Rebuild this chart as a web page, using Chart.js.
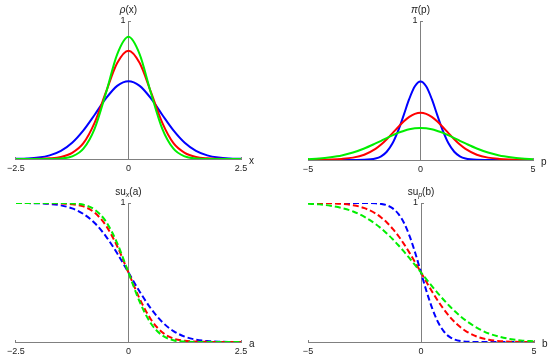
<!DOCTYPE html>
<html>
<head>
<meta charset="utf-8">
<title>Position and momentum distributions</title>
<script src="https://cdn.jsdelivr.net/npm/chart.js@4.4.0/dist/chart.umd.min.js"></script>
<style>
  html, body { margin: 0; padding: 0; background: #ffffff; }
  #wrap { position: relative; width: 550px; height: 360px; }
  canvas { position: absolute; }
</style>
</head>
<body>
<div id="wrap">
  <canvas id="rhoChart" width="275" height="180" style="left:0;top:0"></canvas>
  <canvas id="piChart" width="275" height="180" style="left:275px;top:0"></canvas>
  <canvas id="suxChart" width="275" height="180" style="left:0;top:180px"></canvas>
  <canvas id="supChart" width="275" height="180" style="left:275px;top:180px"></canvas>
</div>
<script>
// Sample points
const xGrid = [-2.5, -2.25, -2, -1.75, -1.5, -1.25, -1, -0.75, -0.5, -0.25, 0,
               0.25, 0.5, 0.75, 1, 1.25, 1.5, 1.75, 2, 2.25, 2.5];
const pGrid = [-5, -4.5, -4, -3.5, -3, -2.5, -2, -1.75, -1.5, -1.25, -1, -0.75, -0.5, -0.25, 0,
               0.25, 0.5, 0.75, 1, 1.25, 1.5, 1.75, 2, 2.5, 3, 3.5, 4, 4.5, 5];

// rho(x)
const rhoBlue  = [0.0011, 0.0036, 0.0103, 0.0264, 0.0594, 0.118, 0.2075, 0.321, 0.439, 0.530, 0.564,
                  0.530, 0.439, 0.321, 0.2075, 0.118, 0.0594, 0.0264, 0.0103, 0.0036, 0.0011];
const rhoRed   = [0, 0.0003, 0.0015, 0.005, 0.015, 0.045, 0.115, 0.264, 0.484, 0.695, 0.785,
                  0.695, 0.484, 0.264, 0.115, 0.045, 0.015, 0.005, 0.0015, 0.0003, 0];
const rhoGreen = [0, 0, 0, 0.0005, 0.0034, 0.0187, 0.075, 0.221, 0.478, 0.759, 0.886,
                  0.759, 0.478, 0.221, 0.075, 0.0187, 0.0034, 0.0005, 0, 0, 0];

// pi(p)
const piBlue  = [0, 0, 0, 0, 0, 0.0011, 0.0103, 0.0264, 0.0594, 0.118, 0.2075, 0.321, 0.439, 0.530, 0.564,
                 0.530, 0.439, 0.321, 0.2075, 0.118, 0.0594, 0.0264, 0.0103, 0.0011, 0, 0, 0, 0, 0];
const piRed   = [0.001, 0.002, 0.004, 0.008, 0.017, 0.038, 0.080, 0.111, 0.1495, 0.192, 0.236, 0.277, 0.310, 0.332, 0.340,
                 0.332, 0.310, 0.277, 0.236, 0.192, 0.1495, 0.111, 0.080, 0.038, 0.017, 0.008, 0.004, 0.002, 0.001];
const piGreen = [0.006, 0.011, 0.020, 0.033, 0.054, 0.083, 0.119, 0.138, 0.158, 0.177, 0.195, 0.209, 0.221, 0.228, 0.230,
                 0.228, 0.221, 0.209, 0.195, 0.177, 0.158, 0.138, 0.119, 0.083, 0.054, 0.033, 0.020, 0.011, 0.006];

// su_x(a)
const suxBlue  = [0.9998, 0.9993, 0.9977, 0.9933, 0.983, 0.9614, 0.9214, 0.856, 0.760, 0.638, 0.5,
                  0.362, 0.240, 0.144, 0.0786, 0.0386, 0.017, 0.0067, 0.0023, 0.0007, 0.0002];
const suxRed   = [1, 1, 0.9997, 0.999, 0.997, 0.991, 0.9755, 0.9302, 0.838, 0.689, 0.5,
                  0.311, 0.162, 0.0698, 0.0245, 0.009, 0.003, 0.001, 0.0003, 0, 0];
const suxGreen = [1, 1, 1, 1, 0.9996, 0.9972, 0.9874, 0.9524, 0.867, 0.711, 0.5,
                  0.289, 0.133, 0.0476, 0.0126, 0.0028, 0.0004, 0, 0, 0, 0];

// su_p(b)
const supBlue  = [1, 1, 1, 1, 1, 0.9998, 0.9977, 0.9933, 0.983, 0.9614, 0.9214, 0.856, 0.760, 0.638, 0.5,
                  0.362, 0.240, 0.144, 0.0786, 0.0386, 0.017, 0.0067, 0.0023, 0.0002, 0, 0, 0, 0, 0];
const supRed   = [0.9998, 0.9993, 0.9978, 0.9938, 0.9839, 0.963, 0.9234, 0.8943, 0.858, 0.814, 0.7624, 0.7039, 0.6395, 0.5709, 0.5,
                  0.4291, 0.3605, 0.2961, 0.2376, 0.186, 0.142, 0.1057, 0.0766, 0.037, 0.0161, 0.0062, 0.0022, 0.0007, 0.0002];
const supGreen = [0.9947, 0.9901, 0.9798, 0.9636, 0.9388, 0.9001, 0.8474, 0.8152, 0.7791, 0.7392, 0.696, 0.6497, 0.6011, 0.551, 0.5,
                  0.449, 0.3989, 0.3503, 0.304, 0.2608, 0.2209, 0.1848, 0.1526, 0.0999, 0.0612, 0.0364, 0.0202, 0.0099, 0.0053];

// Tick labels
const xTicks = [-2.5, 0, 2.5];
const pTicks = [-5, 0, 5];
const yTicks = [1];

const COLORS = ['#0000ff', '#ff0000', '#00ee00'];
const AXIS = '#808080';
const TEXT = '#222222';
const FONT_FAMILY = '"Liberation Sans", Arial, sans-serif';

function fmtTick(value) {
    return value < 0 ? '\u2212' + Math.abs(value) : String(value);
}

// draws a label built from parts ({t, it, sub}) centred on cx
function drawParts(ctx, parts, cx, cy) {
    const fontFor = (p) => (p.it ? 'italic ' : '') + (p.sub ? '7px ' : '10px ') + FONT_FAMILY;
    let total = 0;
    parts.forEach(p => { ctx.font = fontFor(p); total += ctx.measureText(p.t).width; });
    let x = cx - total / 2;
    ctx.textAlign = 'left';
    ctx.textBaseline = 'middle';
    parts.forEach(p => {
        ctx.font = fontFor(p);
        ctx.fillText(p.t, x, cy + (p.sub ? 3 : 0));
        x += ctx.measureText(p.t).width;
    });
}

// axis names: one at the end of the horizontal axis, one above the vertical axis
const axisNames = {
    id: 'axisNames',
    afterDraw(chart, args, opts) {
        const {ctx, scales: {x, y}} = chart;
        const x0 = x.getPixelForValue(0);
        const y0 = y.getPixelForValue(0);
        ctx.save();
        ctx.fillStyle = TEXT;
        ctx.font = '10px ' + FONT_FAMILY;
        ctx.textAlign = 'left';
        ctx.textBaseline = 'middle';
        ctx.fillText(opts.xName, x.right + 8, y0 + 2);
        drawParts(ctx, opts.yName, x0, y.top - 10.5);
        ctx.restore();
    }
};

function makePanel(id, cfg) {
    const ctx = document.getElementById(id).getContext('2d');
    const axisCommon = {
        type: 'linear',
        grid: { drawOnChartArea: false, drawTicks: true, tickLength: -3, color: AXIS },
        border: { color: AXIS, width: 1 }
    };
    return new Chart(ctx, {
        type: 'line',
        data: {
            datasets: cfg.series.map((ys, i) => ({
                data: cfg.xs.map((v, j) => ({ x: v, y: ys[j] })),
                borderColor: COLORS[i],
                borderWidth: 2,
                borderDash: cfg.dashed ? [6, 3] : [],
                pointRadius: 0,
                cubicInterpolationMode: 'monotone',
                fill: false,
                order: 2 - i
            }))
        },
        options: {
            responsive: false,
            animation: false,
            devicePixelRatio: 1,
            events: [],
            layout: { padding: cfg.padding },
            plugins: {
                legend: { display: false },
                tooltip: { enabled: false },
                axisNames: { xName: cfg.xName, yName: cfg.yName }
            },
            scales: {
                x: Object.assign({}, axisCommon, {
                    position: { y: 0 },
                    min: cfg.ticks[0],
                    max: cfg.ticks[cfg.ticks.length - 1],
                    afterBuildTicks: (s) => { s.ticks = cfg.ticks.map(v => ({ value: v })); },
                    ticks: { autoSkip: false, maxRotation: 0, padding: 7, color: TEXT,
                             font: { family: FONT_FAMILY, size: 9 }, callback: fmtTick }
                }),
                y: Object.assign({}, axisCommon, {
                    position: 'center',
                    min: 0,
                    max: 1,
                    afterBuildTicks: (s) => { s.ticks = yTicks.map(v => ({ value: v })); },
                    ticks: { autoSkip: false, padding: 6, color: TEXT,
                             font: { family: FONT_FAMILY, size: 9 }, callback: fmtTick }
                })
            }
        },
        plugins: [axisNames]
    });
}

makePanel('rhoChart', {
    xs: xGrid, series: [rhoBlue, rhoRed, rhoGreen], ticks: xTicks, dashed: false,
    padding: { left: 14, right: 34, top: 21, bottom: 21 },
    xName: 'x', yName: [{ t: '\u03C1', it: true }, { t: '(x)' }]
});
makePanel('piChart', {
    xs: pGrid, series: [piBlue, piRed, piGreen], ticks: pTicks, dashed: false,
    padding: { left: 33, right: 17, top: 21, bottom: 20 },
    xName: 'p', yName: [{ t: '\u03C0', it: true }, { t: '(p)' }]
});
makePanel('suxChart', {
    xs: xGrid, series: [suxBlue, suxRed, suxGreen], ticks: xTicks, dashed: true,
    padding: { left: 14, right: 34, top: 23, bottom: 18 },
    xName: 'a', yName: [{ t: 'su' }, { t: 'x', it: true, sub: true }, { t: '(a)' }]
});
makePanel('supChart', {
    xs: pGrid, series: [supBlue, supRed, supGreen], ticks: pTicks, dashed: true,
    padding: { left: 33, right: 16, top: 23, bottom: 18 },
    xName: 'b', yName: [{ t: 'su' }, { t: 'p', it: true, sub: true }, { t: '(b)' }]
});
</script>
</body>
</html>
